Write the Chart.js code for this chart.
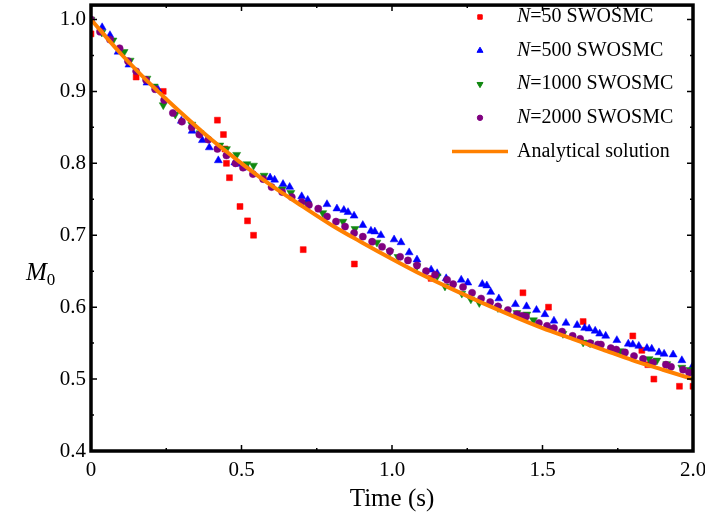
<!DOCTYPE html>
<html>
<head>
<meta charset="utf-8">
<script src="https://cdn.jsdelivr.net/npm/chart.js@4"></script>
<style>
  html, body { margin: 0; padding: 0; background: #fff; }
  #wrap { width: 705px; height: 524px; }
</style>
</head>
<body>
<div id="wrap"><canvas id="m0Chart" width="705" height="524"></canvas></div>
<script>
// Series
const seriesLabels = ['=50 SWOSMC', '=500 SWOSMC', '=1000 SWOSMC', '=2000 SWOSMC', 'Analytical solution'];

const tN50 = [0, 0.15, 0.24, 0.42, 0.44, 0.445, 0.45, 0.46, 0.495, 0.52, 0.54, 0.705, 0.875, 1.13, 1.435, 1.52, 1.635, 1.80, 1.83, 1.85, 1.87, 1.955, 2.0];
const mN50 = [0.98, 0.92, 0.90, 0.86, 0.84, 0.82, 0.80, 0.78, 0.74, 0.72, 0.70, 0.68, 0.66, 0.64, 0.62, 0.60, 0.58, 0.56, 0.54, 0.52, 0.50, 0.49, 0.49];

const tN500 = [0, 0.037, 0.063, 0.09, 0.126, 0.186, 0.222, 0.30, 0.336, 0.37, 0.393, 0.423, 0.478, 0.488, 0.518, 0.595, 0.61, 0.638, 0.66, 0.70, 0.72, 0.784, 0.817, 0.84, 0.854, 0.874, 0.903, 0.93, 0.943, 0.963, 1.007, 1.03, 1.057, 1.083, 1.13, 1.15, 1.18, 1.23, 1.252, 1.30, 1.315, 1.328, 1.355, 1.41, 1.447, 1.48, 1.508, 1.538, 1.578, 1.615, 1.64, 1.655, 1.675, 1.69, 1.71, 1.747, 1.785, 1.80, 1.82, 1.847, 1.863, 1.887, 1.904, 1.934, 1.963, 2.0];
const mN500 = [1.0, 0.989, 0.978, 0.955, 0.937, 0.912, 0.903, 0.859, 0.845, 0.832, 0.822, 0.804, 0.801, 0.799, 0.794, 0.780, 0.777, 0.771, 0.767, 0.754, 0.749, 0.743, 0.737, 0.735, 0.732, 0.727, 0.714, 0.706, 0.705, 0.700, 0.694, 0.690, 0.676, 0.666, 0.652, 0.647, 0.640, 0.638, 0.634, 0.632, 0.630, 0.621, 0.612, 0.604, 0.601, 0.596, 0.590, 0.581, 0.578, 0.575, 0.571, 0.570, 0.567, 0.563, 0.560, 0.554, 0.549, 0.548, 0.546, 0.543, 0.542, 0.537, 0.535, 0.534, 0.526, 0.519];

const tN1000 = [0, 0.036, 0.073, 0.11, 0.13, 0.186, 0.21, 0.24, 0.28, 0.335, 0.362, 0.428, 0.45, 0.484, 0.518, 0.54, 0.575, 0.635, 0.664, 0.72, 0.77, 0.837, 0.877, 0.95, 0.993, 1.02, 1.083, 1.15, 1.176, 1.232, 1.262, 1.29, 1.352, 1.415, 1.448, 1.47, 1.53, 1.568, 1.635, 1.658, 1.757, 1.767, 1.854, 1.88, 1.913, 1.963, 1.99];
const mN1000 = [1.0, 0.982, 0.971, 0.955, 0.943, 0.918, 0.907, 0.881, 0.868, 0.854, 0.842, 0.825, 0.820, 0.812, 0.799, 0.797, 0.783, 0.764, 0.759, 0.743, 0.731, 0.719, 0.709, 0.690, 0.677, 0.670, 0.657, 0.643, 0.629, 0.619, 0.611, 0.606, 0.599, 0.592, 0.590, 0.582, 0.571, 0.563, 0.551, 0.550, 0.539, 0.538, 0.528, 0.526, 0.521, 0.516, 0.513];

const tN2000 = [0, 0.03, 0.063, 0.095, 0.123, 0.15, 0.183, 0.213, 0.243, 0.272, 0.302, 0.335, 0.36, 0.39, 0.42, 0.45, 0.48, 0.505, 0.538, 0.572, 0.60, 0.635, 0.667, 0.70, 0.724, 0.755, 0.784, 0.814, 0.844, 0.874, 0.903, 0.934, 0.967, 0.993, 1.027, 1.053, 1.083, 1.113, 1.143, 1.183, 1.203, 1.236, 1.266, 1.296, 1.326, 1.352, 1.385, 1.415, 1.432, 1.445, 1.488, 1.515, 1.538, 1.565, 1.60, 1.625, 1.658, 1.684, 1.694, 1.727, 1.745, 1.774, 1.804, 1.834, 1.867, 1.91, 1.927, 1.967, 1.987];
const mN2000 = [1.0, 0.983, 0.972, 0.960, 0.942, 0.928, 0.916, 0.903, 0.888, 0.870, 0.858, 0.850, 0.840, 0.833, 0.820, 0.811, 0.800, 0.794, 0.785, 0.778, 0.767, 0.760, 0.753, 0.746, 0.742, 0.737, 0.726, 0.719, 0.712, 0.703, 0.698, 0.691, 0.684, 0.678, 0.670, 0.665, 0.658, 0.650, 0.645, 0.638, 0.632, 0.628, 0.620, 0.612, 0.607, 0.601, 0.596, 0.590, 0.588, 0.587, 0.578, 0.574, 0.571, 0.566, 0.560, 0.556, 0.550, 0.548, 0.548, 0.543, 0.541, 0.537, 0.532, 0.528, 0.523, 0.520, 0.517, 0.513, 0.509];

const tExact = [0, 0.1, 0.2, 0.3, 0.4, 0.5, 0.6, 0.7, 0.8, 0.9, 1.0, 1.1, 1.2, 1.3, 1.4, 1.5, 1.6, 1.7, 1.8, 1.9, 2.0];
const mExact = [1.0, 0.952, 0.909, 0.870, 0.833, 0.800, 0.769, 0.741, 0.714, 0.690, 0.667, 0.645, 0.625, 0.606, 0.588, 0.571, 0.556, 0.541, 0.526, 0.513, 0.500];

const xTicks = [0, 0.5, 1.0, 1.5, 2.0];
const yTicks = [0.4, 0.5, 0.6, 0.7, 0.8, 0.9, 1.0];

const serif = '"Liberation Serif", "Times New Roman", serif';

function pts(xs, ys) {
    return xs.map((x, i) => ({x: x, y: ys[i]}));
}

const markerStyles = [
    {pointStyle: 'rect', radius: 4.2, rotation: 0, color: '#ff0000'},
    {pointStyle: 'triangle', radius: 4.6, rotation: 0, color: '#0000ff'},
    {pointStyle: 'triangle', radius: 4.6, rotation: 180, color: '#118811'},
    {pointStyle: 'circle', radius: 3.6, rotation: 0, color: '#800080'}
];

// frame, inward ticks, axis titles and the legend
const framePlugin = {
    id: 'framePlugin',
    afterDraw(chart) {
        const ctx = chart.ctx;
        const a = chart.chartArea;
        const xs = chart.scales.x, ys = chart.scales.y;
        ctx.save();
        ctx.strokeStyle = '#000';

        // minor + major ticks, pointing inward on all sides
        ctx.lineWidth = 1.5;
        for (let v = 0; v <= 2.0001; v += 0.25) {
            const px = xs.getPixelForValue(v);
            const len = Math.abs(v * 2 - Math.round(v * 2)) < 1e-6 ? 6 : 3;
            ctx.beginPath();
            ctx.moveTo(px, a.bottom); ctx.lineTo(px, a.bottom - len);
            ctx.moveTo(px, a.top); ctx.lineTo(px, a.top + len);
            ctx.stroke();
        }
        for (let v = 0.4; v <= 1.0001; v += 0.05) {
            const py = ys.getPixelForValue(v);
            const len = Math.abs(v * 10 - Math.round(v * 10)) < 1e-6 ? 6 : 3;
            ctx.beginPath();
            ctx.moveTo(a.left, py); ctx.lineTo(a.left + len, py);
            ctx.moveTo(a.right, py); ctx.lineTo(a.right - len, py);
            ctx.stroke();
        }

        ctx.lineWidth = 3.5;
        ctx.strokeRect(a.left, a.top, a.right - a.left, a.bottom - a.top);

        // axis titles
        ctx.fillStyle = '#000';
        ctx.textBaseline = 'alphabetic';
        ctx.textAlign = 'center';
        ctx.font = '25px ' + serif;
        ctx.fillText('Time (s)', (a.left + a.right) / 2, 506);

        ctx.textAlign = 'left';
        ctx.font = 'italic 25px ' + serif;
        ctx.fillText('M', 26, 280);
        const mw = ctx.measureText('M').width;
        ctx.font = '17px ' + serif;
        ctx.fillText('0', 26 + mw, 285);

        // legend
        const y0 = 17, step = 33.6;
        ctx.textBaseline = 'middle';
        seriesLabels.forEach((label, i) => {
            const y = y0 + i * step;
            if (i < markerStyles.length) {
                const m = markerStyles[i];
                ctx.fillStyle = m.color;
                ctx.strokeStyle = m.color;
                ctx.lineWidth = 1;
                Chart.helpers.drawPoint(ctx, {pointStyle: m.pointStyle, radius: m.radius * 0.75, rotation: m.rotation, borderWidth: 1}, 480, y);
                ctx.fillStyle = '#000';
                ctx.font = 'italic 20px ' + serif;
                ctx.fillText('N', 517, y);
                const nw = ctx.measureText('N').width;
                ctx.font = '20px ' + serif;
                ctx.fillText(label, 517 + nw, y);
            } else {
                ctx.strokeStyle = '#ff8000';
                ctx.lineWidth = 3.5;
                ctx.beginPath();
                ctx.moveTo(452, y); ctx.lineTo(508, y);
                ctx.stroke();
                ctx.fillStyle = '#000';
                ctx.font = '20px ' + serif;
                ctx.fillText(label, 517, y);
            }
        });
        ctx.restore();
    }
};

function markerDataset(i, xs, ys) {
    const m = markerStyles[i];
    return {
        label: seriesLabels[i],
        data: pts(xs, ys),
        pointStyle: m.pointStyle,
        pointRadius: m.radius,
        pointRotation: m.rotation,
        pointBackgroundColor: m.color,
        pointBorderColor: m.color,
        pointBorderWidth: 0.5,
        showLine: false,
        order: 4 - i
    };
}

new Chart(document.getElementById('m0Chart'), {
    type: 'scatter',
    data: {
        datasets: [
            markerDataset(0, tN50, mN50),
            markerDataset(1, tN500, mN500),
            markerDataset(2, tN1000, mN1000),
            markerDataset(3, tN2000, mN2000),
            {
                label: seriesLabels[4],
                data: pts(tExact, mExact),
                showLine: true,
                borderColor: '#ff8000',
                borderWidth: 4,
                pointRadius: 0,
                tension: 0.4,
                cubicInterpolationMode: 'monotone',
                order: 0
            }
        ]
    },
    options: {
        responsive: false,
        animation: false,
        layout: {padding: {top: 2, right: 12, left: 0, bottom: 0}},
        plugins: {
            legend: {display: false},
            tooltip: {enabled: false}
        },
        scales: {
            x: {
                type: 'linear',
                min: 0,
                max: 2.0,
                grid: {display: false, drawTicks: false},
                border: {display: false},
                afterBuildTicks: scale => { scale.ticks = xTicks.map(v => ({value: v})); },
                ticks: {
                    padding: 7,
                    color: '#000',
                    font: {family: serif, size: 21},
                    callback: v => v === 0 ? '0' : v.toFixed(1)
                },
                afterFit: scale => {
                    scale.height = 73;
                    scale.paddingLeft = 0;
                    scale.paddingRight = 0;
                }
            },
            y: {
                type: 'linear',
                min: 0.4,
                max: 1.02,
                grid: {display: false, drawTicks: false},
                border: {display: false},
                afterBuildTicks: scale => { scale.ticks = yTicks.map(v => ({value: v})); },
                ticks: {
                    padding: 5,
                    color: '#000',
                    font: {family: serif, size: 21},
                    callback: v => v.toFixed(1)
                },
                afterFit: scale => {
                    scale.width = 91;
                    scale.paddingTop = 0;
                    scale.paddingBottom = 0;
                }
            }
        }
    },
    plugins: [framePlugin]
});
</script>
</body>
</html>
